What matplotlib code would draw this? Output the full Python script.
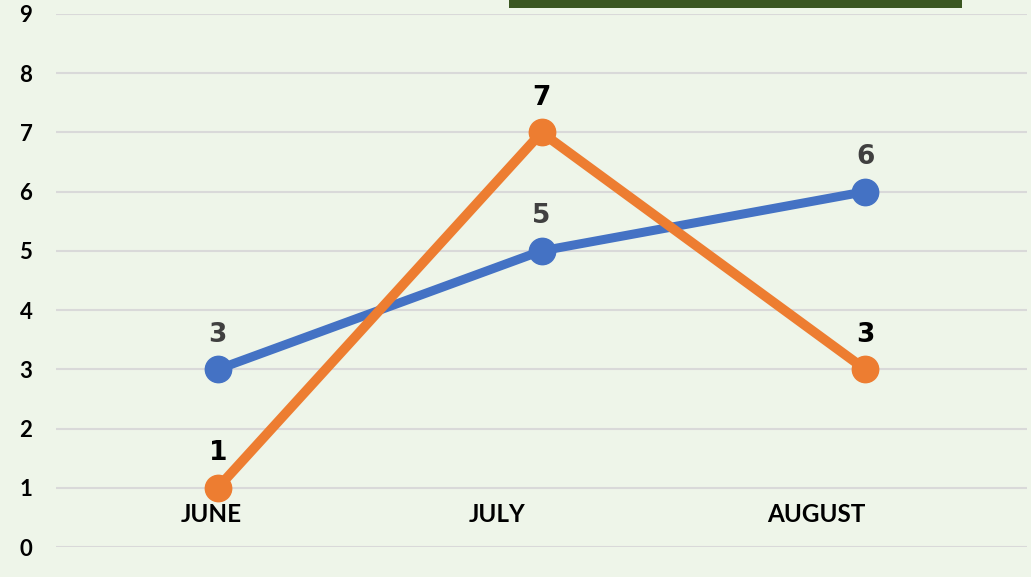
import matplotlib.pyplot as plt
import matplotlib.patches as patches

# chart data
months = ['JUNE', 'JULY', 'AUGUST']
series_blue = [3, 5, 6]
series_orange = [1, 7, 3]
y_ticks = list(range(0, 10))
# category labels are not centred on the points in the original
label_x = [-0.02, 0.864, 1.849]

bg = '#EEF5E9'
blue = '#4472C4'
orange = '#ED7D31'

fig = plt.figure(figsize=(10.31, 5.77), dpi=100, facecolor=bg)
W, H = 1031, 577
ax = fig.add_axes([56 / W, 30 / H, (1027 - 56) / W, (547 - 14) / H])
ax.set_facecolor(bg)

x = list(range(len(months)))
ax.set_xlim(-0.5, len(months) - 0.5)
ax.set_ylim(0, 9)

ax.set_yticks(y_ticks)
ax.set_yticklabels([str(v) for v in y_ticks], family='Lato',
                   fontweight='bold', fontsize=16)
ax.tick_params(axis='y', length=0, pad=17)
ax.set_xticks([])
ax.grid(axis='y', color='#D9D9D9', linewidth=1.5, zorder=0)
for s in ax.spines.values():
    s.set_visible(False)

ax.plot(x, series_blue, color=blue, linewidth=6.5, marker='o',
        markersize=19, solid_capstyle='round', zorder=3)
ax.plot(x, series_orange, color=orange, linewidth=7, marker='o',
        markersize=19, solid_capstyle='round', zorder=4)

# data labels
for xi, v in zip(x, series_blue):
    ax.annotate(str(v), (xi, v), xytext=(0, 25), textcoords='offset points',
                ha='center', va='center', family='DejaVu Sans',
                fontweight='bold', fontsize=19, color='#404040', zorder=5)
for xi, v in zip(x, series_orange):
    ax.annotate(str(v), (xi, v), xytext=(0, 25), textcoords='offset points',
                ha='center', va='center', family='DejaVu Sans',
                fontweight='bold', fontsize=19, color='black', zorder=5)

# category labels sit inside the plot, just above zero
for lx, m in zip(label_x, months):
    ax.text(lx, 0.55, m, ha='center', va='center', family='Lato',
            fontweight='bold', fontsize=17.5, color='black', zorder=5)

# cut-off title box at the top
fig.patches.append(patches.Rectangle((509 / W, 1 - 8 / H), (962 - 509) / W,
                                     8 / H, transform=fig.transFigure,
                                     facecolor='#3A5622', edgecolor='none'))

fig.savefig('out.png', dpi=100, facecolor=bg)
